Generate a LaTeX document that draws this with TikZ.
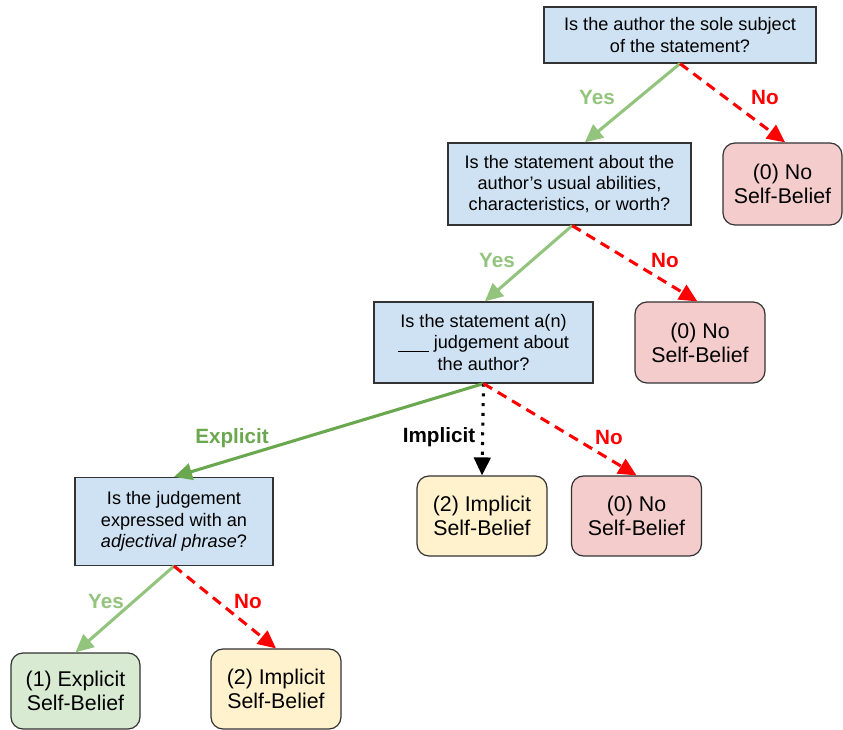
\documentclass[tikz,border=0pt]{standalone}
\usepackage{fontspec}
\setmainfont{Liberation Sans}
\usetikzlibrary{arrows.meta}
\definecolor{qblue}{HTML}{CFE2F3}
\definecolor{nored}{HTML}{F4CCCC}
\definecolor{impyel}{HTML}{FFF2CC}
\definecolor{expgreen}{HTML}{D9EAD3}
\definecolor{lgreen}{HTML}{93C47D}
\definecolor{dgreen}{HTML}{6AA84F}
\definecolor{bordr}{HTML}{333333}
\begin{document}
\begin{tikzpicture}[x=0.75pt,y=-0.75pt,
  base/.style={draw=bordr,line width=0.9pt,align=center,inner sep=0pt,
    font=\fontsize{13.6}{16}\selectfont},
  qbox/.style={base,fill=qblue},
  rbox/.style={base,rounded corners=9pt,font=\fontsize{16}{18}\selectfont},
  nobox/.style={rbox,fill=nored},
  impbox/.style={rbox,fill=impyel},
  expbox/.style={rbox,fill=expgreen},
  tipa/.style={-{Triangle[length=13.5pt,width=12.5pt]}},
  yesarr/.style={tipa,draw=lgreen,line width=2.3pt},
  exparr/.style={tipa,draw=dgreen,line width=2.3pt},
  noarr/.style={tipa,draw=red,line width=2.3pt,dash pattern=on 7.5pt off 5pt},
  imparr/.style={tipa,draw=black,line width=2.3pt,dash pattern=on 2.3pt off 5pt},
  lbl/.style={font=\fontsize{15.5}{18}\selectfont\bfseries,inner sep=0pt},
]
\useasboundingbox (0,0) rectangle (843,730);

\node[qbox,minimum width=204pt,minimum height=42pt] (q1) at (680,35)
  {Is the author the sole subject\\of the statement?};
\node[qbox,minimum width=182.25pt,minimum height=61.5pt] (q2) at (569.5,184)
  {Is the statement about the\\author’s usual abilities,\\characteristics, or worth?};
\node[nobox,minimum width=89.25pt,minimum height=61.5pt] (n1) at (782.5,184)
  {(0) No\\Self-Belief};
\node[qbox,minimum width=164.25pt,minimum height=60.75pt] (q3) at (483.5,342.5)
  {Is the statement a(n)\\\underline{\hspace{1.7em}} judgement about\\the author?};
\node[nobox,minimum width=97.5pt,minimum height=60.75pt] (n2) at (700,342.5)
  {(0) No\\Self-Belief};
\node[impbox,minimum width=97.5pt,minimum height=60pt] (i1) at (482,516)
  {(2) Implicit\\Self-Belief};
\node[nobox,minimum width=97.5pt,minimum height=60pt] (n3) at (636.5,516)
  {(0) No\\Self-Belief};
\node[qbox,minimum width=148.5pt,minimum height=66pt] (q4) at (174,521.5)
  {Is the judgement\\expressed with an\\\textit{adjectival phrase}?};
\node[expbox,minimum width=96.75pt,minimum height=57pt] (e1) at (75.5,691)
  {(1) Explicit\\Self-Belief};
\node[impbox,minimum width=97.5pt,minimum height=60pt] (i2) at (276,689)
  {(2) Implicit\\Self-Belief};

\draw[yesarr] (q1.south) -- ([xshift=11.5pt]q2.north);
\draw[noarr] (q1.south) -- ([xshift=2pt]n1.north);
\draw[yesarr] ([xshift=2pt]q2.south) -- ([xshift=1pt]q3.north);
\draw[noarr] ([xshift=2pt]q2.south) -- ([xshift=-2pt]n2.north);
\draw[exparr] (q3.south) -- (q4.north);
\draw[imparr] (q3.south) -- (i1.north);
\draw[noarr] (q3.south) -- (n3.north);
\draw[yesarr] (q4.south) -- (e1.north);
\draw[noarr] (q4.south) -- (i2.north);

\node[lbl,text=lgreen] (y1) at (597,97) {Yes};
\node[lbl,text=red] (no1) at (765,97) {No};
\node[lbl,text=lgreen] (y2) at (497,260) {Yes};
\node[lbl,text=red] (no2) at (665,260) {No};
\node[lbl,text=dgreen] (xl) at (232,438) {Explicit};
\node[lbl,text=black] (il) at (439,437) {Implicit};
\node[lbl,text=red] (no3) at (609,437) {No};
\node[lbl,text=lgreen] (y4) at (106,601) {Yes};
\node[lbl,text=red] (no4) at (248,601) {No};
\end{tikzpicture}
\end{document}
